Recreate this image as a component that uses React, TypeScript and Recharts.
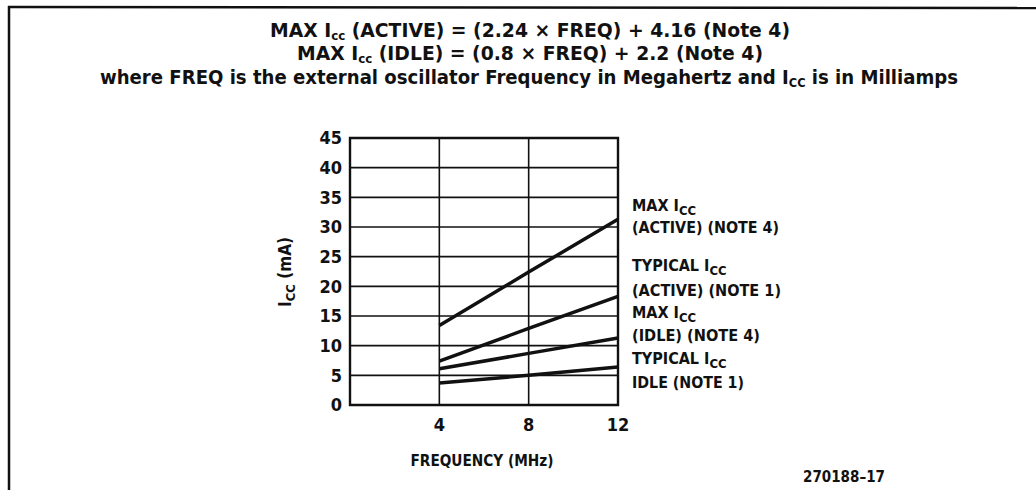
import React from "react";
import { LineChart, Line, XAxis, YAxis, CartesianGrid, ReferenceArea } from "recharts";

const freqMHz = [4, 8, 12];
const maxActive = [13.4, 22.4, 31.3];
const typActive = [7.4, 12.9, 18.3];
const maxIdle = [6.1, 8.7, 11.3];
const typIdle = [3.7, 5.0, 6.4];
const yTicks = [0, 5, 10, 15, 20, 25, 30, 35, 40, 45];
const xTicks = [4, 8, 12];

const data = freqMHz.map((f, i) => ({
  f,
  maxActive: maxActive[i],
  typActive: typActive[i],
  maxIdle: maxIdle[i],
  typIdle: typIdle[i],
}));

const FONT = "'DejaVu Sans Condensed', 'Liberation Sans', Arial, sans-serif";

const Sub = ({ children, size, shift }: { children: React.ReactNode; size: number; shift?: number }) => {
  const d = shift ?? size * 0.3;
  return (
    <>
      <tspan dy={d} fontSize={size}>{children}</tspan>
      <tspan dy={-d}>{" "}</tspan>
    </>
  );
};

export default function App() {
  const W = 1036;
  const H = 490;
  const lab = 16;
  const tickStyle = { fill: "#111", fontSize: 18, fontWeight: 700, fontFamily: FONT };
  return (
    <div style={{ position: "relative", width: W, height: H, background: "#fff", overflow: "hidden" }}>
      <style>{`html,body{margin:0;background:#fff;overflow:hidden}`}</style>
      <LineChart
        width={W}
        height={H}
        data={data}
        margin={{ top: 138, right: 418, left: 290, bottom: 55 }}
      >
        <CartesianGrid stroke="#111" strokeWidth={1.6} />
        <XAxis
          dataKey="f"
          type="number"
          domain={[0, 12]}
          ticks={xTicks}
          axisLine={false}
          tickLine={false}
          tickMargin={7}
          height={30}
          tick={tickStyle}
        />
        <YAxis
          type="number"
          domain={[0, 45]}
          ticks={yTicks}
          axisLine={false}
          tickLine={false}
          width={60}
          interval={0}
          tick={tickStyle}
        />
        <ReferenceArea x1={0} x2={12} y1={0} y2={45} fill="none" stroke="#111" strokeWidth={2.4} ifOverflow="visible" />
        <Line dataKey="maxActive" stroke="#111" strokeWidth={3.5} dot={false} isAnimationActive={false} />
        <Line dataKey="typActive" stroke="#111" strokeWidth={3.5} dot={false} isAnimationActive={false} />
        <Line dataKey="maxIdle" stroke="#111" strokeWidth={3.5} dot={false} isAnimationActive={false} />
        <Line dataKey="typIdle" stroke="#111" strokeWidth={3.5} dot={false} isAnimationActive={false} />
      </LineChart>
      <svg
        width={W}
        height={H}
        style={{ position: "absolute", left: 0, top: 0, pointerEvents: "none" }}
        fontFamily={FONT}
        fill="#111"
      >
        <line x1={9} y1={6} x2={9} y2={490} stroke="#111" strokeWidth={2.5} />
        <line x1={8} y1={7} x2={1036} y2={8} stroke="#111" strokeWidth={2.5} />
        <text x={530} y={37} textAnchor="middle" fontSize={19} fontWeight={700} textLength={520} lengthAdjust="spacingAndGlyphs">
          MAX I<Sub size={12} shift={3}>cc</Sub>(ACTIVE) = (2.24 × FREQ) + 4.16 (Note 4)
        </text>
        <text x={530} y={60} textAnchor="middle" fontSize={19} fontWeight={700} textLength={466} lengthAdjust="spacingAndGlyphs">
          MAX I<Sub size={12} shift={3}>cc</Sub>(IDLE) = (0.8 × FREQ) + 2.2 (Note 4)
        </text>
        <text x={529} y={84} textAnchor="middle" fontSize={19} fontWeight={700} textLength={858} lengthAdjust="spacingAndGlyphs">
          where FREQ is the external oscillator Frequency in Megahertz and I<Sub size={12} shift={3}>CC</Sub>is in Milliamps
        </text>
        <g fontSize={lab} fontWeight={600}>
          <text x={632} y={211}>MAX I<Sub size={13}>CC</Sub></text>
          <text x={632} y={233} textLength={147} lengthAdjust="spacingAndGlyphs">(ACTIVE) (NOTE 4)</text>
          <text x={632} y={271}>TYPICAL I<Sub size={13}>CC</Sub></text>
          <text x={632} y={296} textLength={149} lengthAdjust="spacingAndGlyphs">(ACTIVE) (NOTE 1)</text>
          <text x={632} y={318}>MAX I<Sub size={13}>CC</Sub></text>
          <text x={632} y={341} textLength={128} lengthAdjust="spacingAndGlyphs">(IDLE) (NOTE 4)</text>
          <text x={632} y={364}>TYPICAL I<Sub size={13}>CC</Sub></text>
          <text x={632} y={388} textLength={112} lengthAdjust="spacingAndGlyphs">IDLE (NOTE 1)</text>
        </g>
        <text transform="translate(291,272) rotate(-90)" textAnchor="middle" fontSize={17} fontWeight={600}>
          I<Sub size={13}>CC</Sub>(mA)
        </text>
        <text x={482} y={466} textAnchor="middle" fontSize={16} fontWeight={600} textLength={143} lengthAdjust="spacingAndGlyphs">
          FREQUENCY (MHz)
        </text>
        <text x={844} y={482} textAnchor="middle" fontSize={15} fontWeight={600}>
          270188–17
        </text>
      </svg>
    </div>
  );
}
